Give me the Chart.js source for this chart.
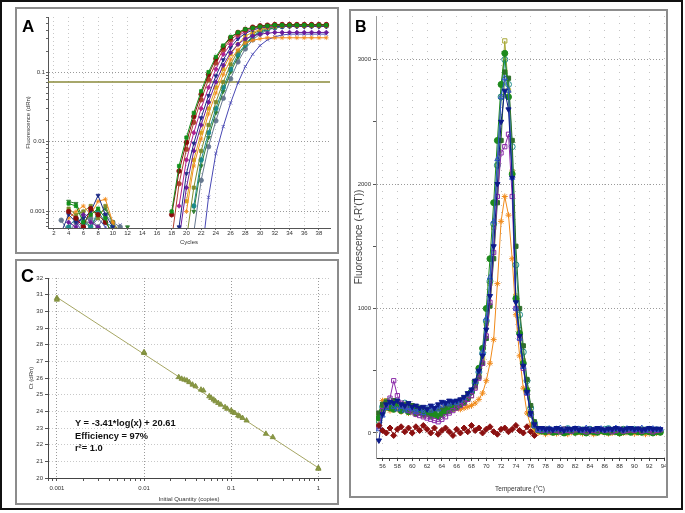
<!DOCTYPE html>
<html lang="en">
  <head>
    <meta charset="UTF-8" />
    <title>qPCR amplification, melt curve and standard curve</title>
    <style>
      body { margin: 0; background: #fff; }
      #page { position: relative; width: 685px; height: 513px; overflow: hidden; }
      #frame { position: absolute; left: 0; top: 0; width: 679px; height: 506px; border: 2px solid #111; }
      .panel { position: absolute; border: 2px solid #8c8c8c; overflow: hidden; background: #fff; }
      .panel canvas { position: absolute; left: 0; top: 0; }
      .letter { position: absolute; font-family: "Liberation Sans", Arial, sans-serif; font-weight: bold; line-height: 1; color: #000; }
      .eq { position: absolute; left: 75px; top: 417px; font: bold 9.3px "Liberation Sans", Arial, sans-serif; line-height: 12.5px; color: #111; }
    </style>
  </head>
  <body>
    <div id="page">
      <div id="frame"></div>
      <div class="panel" style="left:15px; top:7px; width:320px; height:243px">
        <canvas id="chartA" width="320" height="243"></canvas>
      </div>
      <div class="panel" style="left:349px; top:9px; width:315px; height:485px">
        <canvas id="chartB" width="318" height="485"></canvas>
      </div>
      <div class="panel" style="left:15px; top:259px; width:320px; height:242px">
        <canvas id="chartC" width="320" height="242"></canvas>
      </div>
      <div class="letter" style="left:22px; top:18px; font-size:17px">A</div>
      <div class="letter" style="left:355px; top:19px; font-size:16px">B</div>
      <div class="letter" style="left:21px; top:267px; font-size:18px">C</div>
      <div class="eq">Y = -3.41*log(x) + 20.61<br />Efficiency = 97%<br />r²= 1.0</div>
    </div>

    <script src="https://cdn.jsdelivr.net/npm/chart.js"></script>
    <script>
      // ---- A: amplification plot (dRn, log scale) ----
      const cycleTicks = [2, 4, 6, 8, 10, 12, 14, 16, 18, 20, 22, 24, 26, 28, 30, 32, 34, 36, 38];
      const noiseCycles = [3, 4, 5, 6, 7, 8, 9, 10, 11, 12];
      const rampCycles = [18, 19, 20, 21, 22, 23, 24, 25, 26, 27, 28, 29, 30, 31, 32, 33, 34, 35, 36, 37, 38, 39];
      const thresholdDRn = 0.072;

      const ampGreen = [0.001, 0.0045, 0.0115, 0.026, 0.053, 0.1, 0.165, 0.24, 0.32, 0.37, 0.41, 0.43, 0.45, 0.46, 0.47, 0.47, 0.47, 0.47, 0.47, 0.47, 0.47, 0.47];
      const ampDarkRed = [0.0009, 0.0038, 0.0098, 0.023, 0.048, 0.092, 0.155, 0.23, 0.31, 0.37, 0.41, 0.44, 0.46, 0.47, 0.48, 0.48, 0.48, 0.48, 0.48, 0.48, 0.48, 0.48];
      const ampBrown = [0.0004, 0.0025, 0.0078, 0.019, 0.04, 0.078, 0.135, 0.21, 0.29, 0.35, 0.40, 0.43, 0.45, 0.46, 0.47, 0.47, 0.47, 0.47, 0.47, 0.47, 0.47, 0.47];
      const ampMagenta = [null, 0.0012, 0.0055, 0.0135, 0.03, 0.06, 0.11, 0.18, 0.25, 0.33, 0.38, 0.42, 0.44, 0.45, 0.46, 0.46, 0.46, 0.46, 0.46, 0.46, 0.46, 0.46];
      const ampNavy = [null, 0.0006, 0.0035, 0.0095, 0.022, 0.046, 0.088, 0.15, 0.225, 0.30, 0.36, 0.40, 0.43, 0.44, 0.45, 0.45, 0.45, 0.45, 0.45, 0.45, 0.45, 0.45];
      const ampPurple = [null, 0.0004, 0.0022, 0.0074, 0.0174, 0.037, 0.072, 0.125, 0.19, 0.25, 0.30, 0.33, 0.35, 0.36, 0.37, 0.37, 0.37, 0.37, 0.37, 0.37, 0.37, 0.37];
      const ampGold = [null, null, 0.0014, 0.0055, 0.0135, 0.03, 0.06, 0.11, 0.18, 0.25, 0.33, 0.37, 0.41, 0.43, 0.45, 0.46, 0.46, 0.46, 0.46, 0.46, 0.46, 0.46];
      const ampOrange = [null, null, 0.001, 0.0045, 0.011, 0.025, 0.05, 0.092, 0.15, 0.21, 0.26, 0.285, 0.30, 0.31, 0.31, 0.31, 0.31, 0.31, 0.31, 0.31, 0.31, 0.31];
      const ampOlive = [null, null, 0.0004, 0.0022, 0.0074, 0.0174, 0.037, 0.072, 0.129, 0.2, 0.28, 0.35, 0.40, 0.43, 0.45, 0.46, 0.47, 0.47, 0.47, 0.47, 0.47, 0.47];
      const ampTeal = [null, null, null, 0.0012, 0.0055, 0.0135, 0.03, 0.06, 0.11, 0.18, 0.25, 0.33, 0.38, 0.42, 0.44, 0.45, 0.46, 0.46, 0.46, 0.46, 0.46, 0.46];
      const ampGreen2 = [null, null, null, 0.001, 0.0045, 0.0115, 0.026, 0.053, 0.1, 0.165, 0.24, 0.32, 0.37, 0.41, 0.43, 0.45, 0.46, 0.46, 0.46, 0.46, 0.46, 0.46];
      const ampSlate = [null, null, null, 0.0005, 0.0028, 0.0085, 0.02, 0.042, 0.08, 0.14, 0.215, 0.29, 0.35, 0.40, 0.43, 0.45, 0.46, 0.46, 0.46, 0.46, 0.46, 0.46];
      const ampBlue = [null, null, null, null, 0.0002, 0.0016, 0.0068, 0.0165, 0.036, 0.07, 0.12, 0.18, 0.24, 0.29, 0.32, 0.34, 0.35, 0.35, 0.35, 0.35, 0.35, 0.35];

      const noiseGreen = [null, 0.0013, 0.0012, 0.0007, 0.0009, 0.0011, 0.0008, 0.0004, null, null];
      const noiseDarkRed = [null, 0.001, 0.0008, 0.0006, 0.0011, 0.0009, 0.0007, 0.0005, null, null];
      const noiseNavy = [0.0005, 0.0009, 0.0007, 0.0008, 0.001, 0.0017, 0.0009, 0.0006, 0.0004, null];
      const noiseOrange = [null, 0.0008, 0.001, 0.0012, 0.0009, 0.0014, 0.0015, 0.0007, 0.0004, null];
      const noisePurple = [null, 0.0007, 0.0006, 0.0009, 0.0007, 0.0006, 0.0005, null, null, null];
      const noiseOlive = [null, 0.0011, 0.0009, 0.001, 0.0012, 0.0008, 0.0012, 0.0007, 0.0005, null];
      const noiseGreen2 = [null, 0.0014, 0.0013, 0.0008, 0.0006, 0.0009, 0.0011, 0.0007, 0.0004, 0.0006];
      const noiseTeal = [null, 0.0006, 0.0008, 0.0007, 0.0006, 0.001, 0.0007, 0.0006, null, null];
      const noiseSlate = [0.00075, 0.0005, 0.0007, 0.0006, 0.0008, 0.0006, 0.0009, 0.0007, 0.0006, null];
      const noiseBlue = [null, null, 0.0007, 0.0005, 0.0006, 0.0008, 0.0006, 0.0004, 0.00064, 0.0003];

      // ---- B: melt curve, -R'(T) ----
      const meltTicks = [56, 58, 60, 62, 64, 66, 68, 70, 72, 74, 76, 78, 80, 82, 84, 86, 88, 90, 92, 94];
      const meltTemps = [
        55.5, 56, 56.5, 57, 57.5, 58, 58.5, 59, 59.5, 60, 60.5, 61, 61.5, 62, 62.5, 63, 63.5, 64, 64.5, 65, 65.5,
        66, 66.5, 67, 67.5, 68, 68.5, 69, 69.5, 70, 70.5, 71, 71.5, 72, 72.5, 73, 73.5, 74, 74.5, 75, 75.5, 76, 76.5, 77,
        77.5, 78, 78.5, 79, 79.5, 80, 80.5, 81, 81.5, 82, 82.5, 83, 83.5, 84, 84.5, 85, 85.5, 86, 86.5, 87, 87.5, 88, 88.5, 89, 89.5, 90, 90.5, 91, 91.5, 92, 92.5, 93, 93.5
      ];
      const meltNavy = [
        -60, 150, 230, 250, 240, 260, 230, 220, 240, 210, 220, 200, 210, 190, 220, 200, 230, 250, 240, 260, 250,
        260, 270, 290, 320, 350, 420, 500, 620, 830, 1100, 1500, 2000, 2500, 2750, 2600, 2050, 1050, 780, 540, 330, 160, 70, 40,
        40, 30, 35, 25, 40, 30, 20, 35, 30, 40, 25, 30, 35, 20, 30, 40, 30, 25, 35, 30, 40, 30, 25, 35, 40, 30, 35, 25, 30, 40, 30, 35, 30
      ];
      const meltOlive = [
        90, 200, 260, 230, 210, 240, 200, 190, 220, 170, 180, 160, 190, 150, 170, 140, 160, 150, 170, 180, 190,
        200, 220, 240, 270, 300, 370, 460, 600, 880, 1200, 1650, 2150, 2700, 3150, 2750, 2100, 1100, 830, 580, 350, 170, 60, 20,
        10, 20, 5, 15, 20, 10, 0, 15, 20, 10, 5, 15, 10, 20, 0, 10, 15, 5, 20, 10, 15, 5, 10, 20, 15, 5, 10, 15, 20, 10, 5, 15, 10
      ];
      const meltGreen = [
        120, 180, 210, 200, 190, 230, 180, 200, 170, 190, 160, 170, 150, 160, 140, 150, 130, 150, 170, 180, 200,
        210, 230, 250, 280, 330, 410, 520, 680, 1000, 1400, 1850, 2350, 2800, 3050, 2700, 2080, 1080, 800, 560, 340, 150, 60, 25,
        15, 10, 20, 5, 10, 15, 0, 10, 20, 5, 15, 10, 0, 15, 10, 5, 20, 10, 5, 15, 10, 0, 10, 15, 5, 20, 10, 5, 15, 10, 0, 10, 5
      ];
      const meltDarkGreen = [
        160, 230, 250, 220, 260, 240, 210, 230, 200, 220, 180, 200, 170, 190, 160, 180, 200, 190, 210, 230, 240,
        250, 260, 280, 300, 330, 380, 450, 560, 760, 1020, 1400, 1850, 2350, 2900, 2850, 2350, 1500, 1000, 700, 430, 220, 90, 35,
        25, 15, 30, 20, 10, 25, 30, 15, 20, 30, 25, 10, 20, 30, 15, 25, 20, 10, 30, 25, 15, 20, 30, 25, 10, 20, 25, 30, 15, 20, 25, 10, 20
      ];
      const meltPurple = [
        50, 180, 220, 280, 420, 300, 240, 210, 180, 170, 150, 140, 130, 120, 110, 100, 90, 110, 130, 160, 180,
        200, 220, 240, 270, 300, 360, 440, 560, 780, 1050, 1450, 1900, 2250, 2300, 2400, 1900, 1000, 760, 520, 320, 150, 60, 30,
        20, 30, 15, 25, 20, 10, 30, 20, 15, 25, 30, 20, 10, 25, 20, 15, 30, 20, 25, 10, 20, 30, 15, 20, 25, 20, 30, 15, 25, 20, 10, 20, 25
      ];
      const meltOrange = [
        150, 260, 200, 180, 220, 190, 170, 200, 160, 180, 150, 170, 140, 160, 180, 170, 190, 200, 220, 240, 210,
        200, 190, 200, 210, 220, 240, 270, 320, 420, 560, 750, 1200, 1700, 1900, 1750, 1400, 950, 620, 360, 160, 60, 15, 0,
        10, -10, 5, 0, -5, 10, 0, -10, 5, 0, 10, -5, 0, 5, -10, 0, 10, 5, -5, 0, 10, -5, 0, 5, 10, -5, 0, 5, -10, 0, 10, 0, 5
      ];
      const meltTeal = [
        100, 210, 240, 260, 230, 250, 220, 240, 200, 210, 190, 200, 180, 170, 190, 160, 180, 170, 190, 200, 210,
        220, 240, 260, 290, 330, 400, 490, 640, 900, 1220, 1680, 2150, 2700, 3000, 2800, 2300, 1350, 950, 650, 420, 200, 80, 30,
        20, 30, 25, 15, 30, 20, 25, 35, 20, 15, 30, 25, 20, 30, 15, 25, 20, 30, 35, 20, 25, 15, 30, 20, 25, 30, 20, 15, 25, 30, 20, 25, 20
      ];
      const meltBlue = [
        30, 140, 200, 240, 210, 190, 210, 180, 200, 190, 170, 190, 160, 200, 180, 210, 190, 220, 240, 230, 250,
        240, 260, 280, 310, 340, 410, 500, 650, 920, 1250, 1700, 2200, 2700, 2850, 2750, 2050, 1000, 760, 530, 320, 150, 55, 20,
        30, 20, 35, 25, 30, 40, 20, 30, 25, 35, 30, 20, 40, 30, 25, 30, 35, 20, 30, 25, 40, 30, 20, 35, 30, 25, 30, 40, 20, 30, 35, 25, 30
      ];
      // no-template control, 55.5 - 76.5 only
      const meltControl = [
        60, 20, 0, 40, -20, 30, 50, 10, 40, 0, 50, 20, 60, 30, 0, 40, -10, 20, 40, 10, -20,
        30, 0, 40, 10, 60, 20, 40, 0, 30, 50, 10, -10, 30, 40, 10, 30, 60, 20, 0, 50, 10, -20
      ];

      // ---- C: standard curve ----
      const stdQuantity = [0.001, 0.001, 0.01, 0.01, 0.025, 0.027, 0.029, 0.031, 0.033, 0.036, 0.039, 0.045, 0.048, 0.056, 0.059, 0.063, 0.066, 0.071, 0.076, 0.085, 0.09, 0.1, 0.104, 0.11, 0.12, 0.125, 0.135, 0.15, 0.25, 0.3, 1, 1];
      const stdCt = [30.8, 30.7, 27.5, 27.55, 26.05, 25.95, 25.9, 25.85, 25.75, 25.6, 25.5, 25.3, 25.25, 24.9, 24.8, 24.7, 24.6, 24.5, 24.4, 24.25, 24.15, 24.05, 23.95, 23.9, 23.75, 23.7, 23.6, 23.45, 22.65, 22.45, 20.6, 20.55];
      const fitQuantity = [0.001, 1];
      const fitCt = [30.84, 20.61];

      Chart.defaults.font.family = '"Liberation Sans", Arial, sans-serif';
      Chart.defaults.font.size = 6;
      Chart.defaults.color = '#333';

      function isDecade(v) {
        const l = Math.log10(v);
        return Math.abs(l - Math.round(l)) < 1e-9;
      }
      function logTicks(lo, hi) {
        const out = [];
        for (let e = Math.floor(Math.log10(lo)); e <= Math.ceil(Math.log10(hi)); e++) {
          for (let m = 1; m <= 9; m++) {
            const v = m * Math.pow(10, e);
            if (v >= lo && v <= hi) out.push({ value: v });
          }
        }
        return out;
      }
      const decadeLabel = (v) => (isDecade(v) ? String(Number(v.toPrecision(1))) : "");
      const decadeGrid = (c) => (c.tick && isDecade(c.tick.value) ? "#9a9a9a" : "rgba(0,0,0,0)");
      const fixX = (h) => (s) => { s.height = h; s.paddingLeft = 0; s.paddingRight = 0; };
      const fixY = (w) => (s) => { s.width = w; s.paddingTop = 0; s.paddingBottom = 0; };
      const common = {
        responsive: false,
        animation: false,
        devicePixelRatio: 1,
        plugins: { legend: { display: false }, tooltip: { enabled: false } },
        elements: { line: { tension: 0 } },
      };

      // ---------- chart A ----------
      function ampPoints(noise, ramp) {
        const pts = [];
        if (noise) noise.forEach((v, i) => pts.push({ x: noiseCycles[i], y: v }));
        pts.push({ x: 15, y: null });
        ramp.forEach((v, i) => pts.push({ x: rampCycles[i], y: v }));
        return pts;
      }
      const ampList = [
        [ampGreen, noiseGreen, "#13901a", "rect", 0],
        [ampDarkRed, noiseDarkRed, "#8b0a0a", "circle", 0],
        [ampBrown, null, "#b0402e", "circle", 0],
        [ampMagenta, null, "#b02090", "rectRot", 0],
        [ampNavy, noiseNavy, "#1c2a86", "triangle", 180],
        [ampPurple, noisePurple, "#6a1b9a", "rectRot", 0],
        [ampGold, null, "#d9a21e", "rect", 0],
        [ampOrange, noiseOrange, "#f28c1c", "star", 0],
        [ampOlive, noiseOlive, "#7d8c2c", "rect", 0],
        [ampTeal, noiseTeal, "#1b8a8a", "circle", 0],
        [ampGreen2, noiseGreen2, "#2e7d32", "triangle", 180],
        [ampSlate, noiseSlate, "#66788f", "circle", 0],
        [ampBlue, noiseBlue, "#4848b4", "crossRot", 0],
      ];
      const ampDatasets = ampList.map(([ramp, noise, color, style, rot]) => ({
        data: ampPoints(noise, ramp),
        borderColor: color,
        backgroundColor: color,
        borderWidth: 1,
        pointStyle: style,
        rotation: rot,
        pointRadius: 2.3,
        pointBorderWidth: 0.8,
      }));
      ampDatasets.push({
        data: [{ x: 1.2, y: thresholdDRn }, { x: 39.5, y: thresholdDRn }],
        borderColor: "#8a8a3a",
        borderWidth: 1.5,
        pointRadius: 0,
      });

      new Chart(document.getElementById("chartA"), {
        type: "line",
        data: { datasets: ampDatasets },
        options: {
          ...common,
          layout: { padding: { top: 8, right: 7, left: 0, bottom: 0 } },
          scales: {
            x: {
              type: "linear", min: 1.2, max: 39.5,
              afterBuildTicks: (s) => { s.ticks = cycleTicks.map((v) => ({ value: v })); },
              afterFit: fixX(24),
              ticks: { autoSkip: false, maxRotation: 0, padding: 0 },
              grid: { color: "#c8c8c8", tickColor: "#666", tickLength: 2 },
              border: { color: "#555", dash: [1, 3] },
              title: { display: true, text: "Cycles", padding: { top: 0, bottom: 6 } },
            },
            y: {
              type: "logarithmic", min: 0.00058, max: 0.616,
              afterBuildTicks: (s) => { s.ticks = logTicks(0.00058, 0.616); },
              afterFit: fixY(31),
              ticks: { autoSkip: false, padding: 1, callback: decadeLabel },
              grid: { color: decadeGrid, tickColor: "#666", tickLength: 2 },
              border: { color: "#555", dash: [1, 2] },
              title: { display: true, text: "Fluorescence (dRn)", padding: { top: 8, bottom: 0 } },
            },
          },
        },
      });

      // ---------- chart B ----------
      const meltList = [
        [meltControl, "#8b1010", "rectRot", 0, true],
        [meltNavy, "#0c1a8a", "triangle", 180, true],
        [meltBlue, "#2f55c8", "triangle", 0, false],
        [meltPurple, "#8a2aa8", "rect", 0, false],
        [meltGreen, "#1d8a1d", "circle", 0, true],
        [meltDarkGreen, "#2f6f2a", "rect", 0, true],
        [meltTeal, "#1e8c8c", "circle", 0, false],
        [meltOrange, "#f08a1a", "star", 0, true],
        [meltOlive, "#a8a838", "rect", 0, false],
      ];
      const meltDatasets = meltList.map(([vals, color, style, rot, filled]) => ({
        data: vals.map((v, i) => ({ x: meltTemps[i], y: v })),
        borderColor: color,
        backgroundColor: filled ? color : "rgba(255,255,255,0)",
        borderWidth: 1,
        pointStyle: style,
        rotation: rot,
        pointRadius: 3,
        pointBorderWidth: 1,
      }));

      new Chart(document.getElementById("chartB"), {
        type: "line",
        data: { datasets: meltDatasets },
        options: {
          ...common,
          layout: { padding: { top: 0, right: 1, left: 0, bottom: 0 } },
          scales: {
            x: {
              type: "linear", min: 55.11, max: 94,
              afterBuildTicks: (s) => {
                const t = [];
                for (let v = 56; v <= 94; v++) t.push({ value: v });
                s.ticks = t;
              },
              afterFit: fixX(38),
              ticks: { autoSkip: false, maxRotation: 0, padding: 2, callback: (v) => (meltTicks.includes(v) ? String(v) : "") },
              grid: { color: (c) => (c.tick && meltTicks.includes(c.tick.value) ? "#c4c4c4" : "rgba(0,0,0,0)"), tickColor: "#444", tickLength: 3 },
              border: { color: "#333", dash: [1, 6] },
              title: { display: true, text: "Temperature (°C)", font: { size: 6.5 }, padding: { top: 0, bottom: 3 } },
            },
            y: {
              type: "linear", min: -201, max: 3350,
              afterBuildTicks: (s) => { s.ticks = [0, 500, 1000, 1500, 2000, 2500, 3000].map((v) => ({ value: v })); },
              afterFit: fixY(25),
              ticks: { autoSkip: false, padding: 2, callback: (v) => (v % 1000 === 0 ? String(v) : "") },
              grid: { color: (c) => (c.tick && c.tick.value % 1000 === 0 ? "#9a9a9a" : "rgba(0,0,0,0)"), tickColor: "#555", tickLength: 3 },
              border: { color: "#999", dash: [1, 2] },
              title: { display: true, text: "Fluorescence (-R'(T))", color: "#444", font: { size: 10 }, padding: { top: 2, bottom: 0 } },
            },
          },
        },
      });

      // ---------- chart C ----------
      new Chart(document.getElementById("chartC"), {
        type: "line",
        data: {
          datasets: [
            {
              data: stdQuantity.map((q, i) => ({ x: q, y: stdCt[i] })),
              showLine: false,
              borderColor: "#7c8a3a",
              backgroundColor: "#8a9a44",
              pointStyle: "triangle",
              pointRadius: 3,
              pointBorderWidth: 0.8,
            },
            {
              data: fitQuantity.map((q, i) => ({ x: q, y: fitCt[i] })),
              borderColor: "#a6a664",
              borderWidth: 1,
              pointRadius: 0,
            },
          ],
        },
        options: {
          ...common,
          layout: { padding: { top: 17, right: 7, left: 0, bottom: 0 } },
          scales: {
            x: {
              type: "logarithmic", min: 0.00079, max: 1.36,
              afterBuildTicks: (s) => { s.ticks = logTicks(0.00079, 1.36); },
              afterFit: fixX(25),
              ticks: { autoSkip: false, maxRotation: 0, padding: 4, callback: decadeLabel },
              grid: { color: decadeGrid, tickColor: "#555", tickLength: 3 },
              border: { color: "#444", dash: [1, 2] },
              title: { display: true, text: "Initial Quantity (copies)", padding: { top: 0, bottom: 0 } },
            },
            y: {
              type: "linear", min: 20, max: 32,
              ticks: { stepSize: 1, autoSkip: false, padding: 2 },
              afterFit: fixY(31),
              grid: { color: "#c8c8c8", tickColor: "#555", tickLength: 3 },
              border: { color: "#444", dash: [1, 2] },
              title: { display: true, text: "Ct (dRn)", padding: { top: 11, bottom: 0 } },
            },
          },
        },
      });
    </script>
  </body>
</html>
